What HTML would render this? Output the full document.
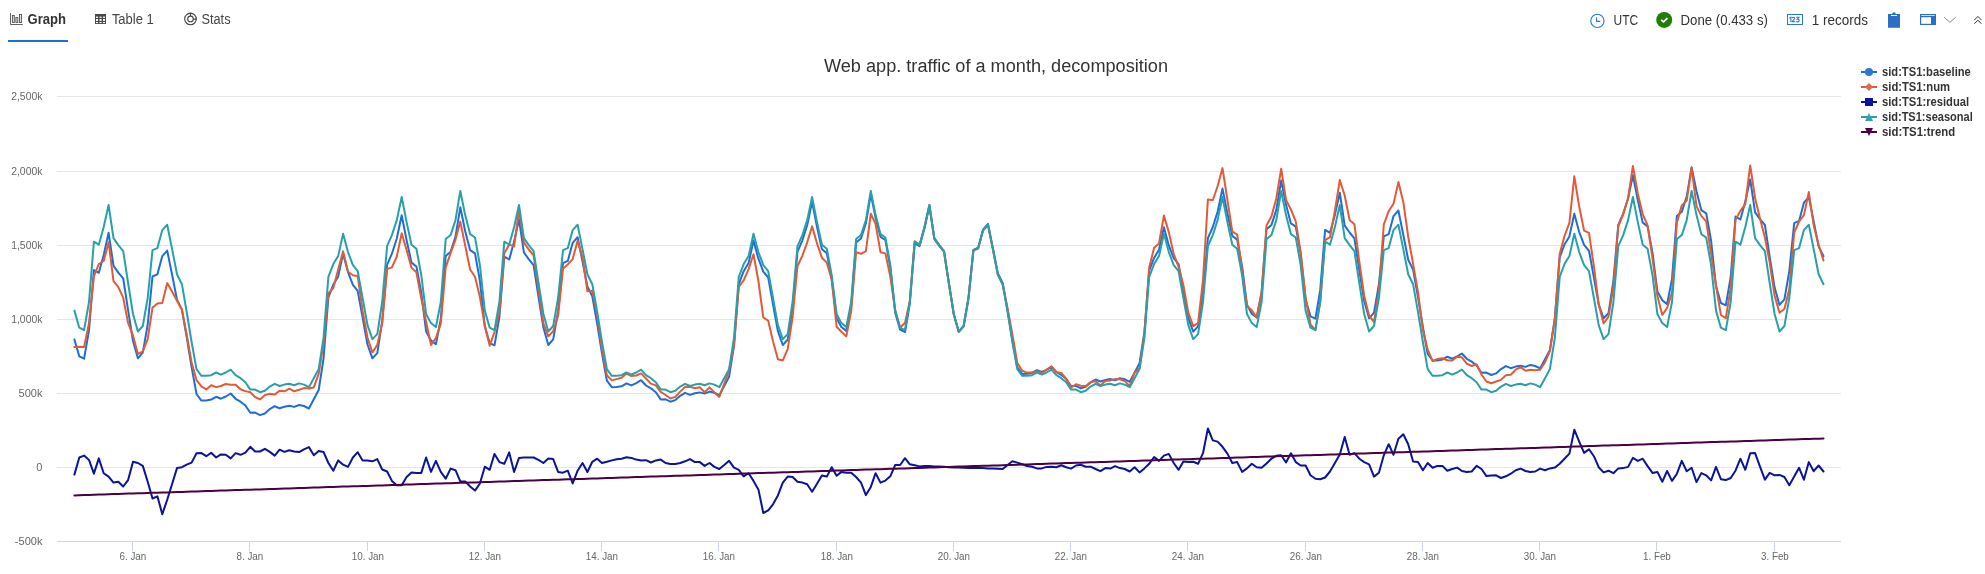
<!DOCTYPE html>
<html><head><meta charset="utf-8"><style>
html,body{margin:0;padding:0;background:#fff;width:1985px;height:574px;overflow:hidden;}
svg{position:absolute;left:0;top:0;display:block;will-change:transform;}
text{font-family:"Liberation Sans", sans-serif;}
</style></head><body>
<svg width="1985" height="574" viewBox="0 0 1985 574">
<!-- header tabs -->
<g fill="#e8e8e8" stroke="#505050" stroke-width="0.9">
  <path d="M10.5 13v11.5H22.8" fill="none"/>
  <rect x="12.4" y="15.5" width="1.9" height="7"/>
  <rect x="15.9" y="17.6" width="1.9" height="4.9"/>
  <rect x="19.5" y="14.4" width="1.9" height="8.1"/>
</g>
<text x="27.5" y="24" font-size="14" font-weight="bold" fill="#333" textLength="38.4" lengthAdjust="spacingAndGlyphs">Graph</text>
<rect x="8" y="40" width="60" height="2" fill="#1c6fd6"/>
<rect x="95" y="14" width="11" height="10" fill="#4a4a4a"/>
<g fill="#fff">
  <rect x="96" y="16.6" width="2" height="1.3"/><rect x="99.5" y="16.6" width="2.1" height="1.3"/><rect x="103" y="16.6" width="2" height="1.3"/>
  <rect x="96" y="19" width="2" height="1.9"/><rect x="99.5" y="19" width="2.1" height="1.9"/><rect x="103" y="19" width="2" height="1.9"/>
  <rect x="96" y="22" width="2" height="1.1"/><rect x="99.5" y="22" width="2.1" height="1.1"/><rect x="103" y="22" width="2" height="1.1"/>
</g>
<text x="111.9" y="24" font-size="14" fill="#444" textLength="41.8" lengthAdjust="spacingAndGlyphs">Table 1</text>
<g stroke="#444" stroke-width="1.1" fill="none">
  <circle cx="190.5" cy="18.9" r="5.8"/>
  <circle cx="190.5" cy="18.9" r="2.8"/>
  <path d="M190.5 13.1v3M193.3 19.1h3"/>
</g>
<text x="201.5" y="24" font-size="14" fill="#444" textLength="29" lengthAdjust="spacingAndGlyphs">Stats</text>

<!-- header right -->
<g stroke="#2b78d4" stroke-width="1.1" fill="none">
  <circle cx="1597.4" cy="20.9" r="6.6"/>
  <path d="M1596.6 17.2v4.2h3.7"/>
</g>
<text x="1613.6" y="24.9" font-size="14" fill="#333" textLength="24.6" lengthAdjust="spacingAndGlyphs">UTC</text>
<circle cx="1664.2" cy="19.9" r="8" fill="#207d06"/>
<path d="M1661.2 19.9l2.3 2 3.9-3.8" stroke="#fff" stroke-width="1.8" fill="none"/>
<text x="1680.5" y="24.9" font-size="14" fill="#333" textLength="87.4" lengthAdjust="spacingAndGlyphs">Done (0.433 s)</text>
<rect x="1787.5" y="14.5" width="15" height="10" fill="none" stroke="#2b78d4" stroke-width="1"/>
<path d="M1789.3 18.3L1790.9 17.2V22M1792.2 18.2C1792.4 16.9 1794.8 16.9 1794.8 18.3C1794.8 19.4 1792.3 20.4 1792.2 21.6H1795.1M1796.1 17.3H1798.9L1797.3 19.1C1799.7 19 1799.7 21.9 1797.5 21.9C1796.9 21.9 1796.4 21.7 1796 21.3" fill="none" stroke="#2b78d4" stroke-width="1.1"/>
<text x="1811.8" y="24.9" font-size="14" fill="#333" textLength="56.2" lengthAdjust="spacingAndGlyphs">1 records</text>
<path d="M1888 14h4.2a1.8 1.8 0 0 1 3.6 0H1900v13.7h-12z" fill="#2b6fc4"/>
<rect x="1891" y="15" width="6" height="1" fill="#fff"/>
<g fill="none" stroke="#2b6fc4" stroke-width="1.2">
  <rect x="1920.6" y="14.6" width="14.8" height="9.8"/>
  <path d="M1920 16.6h16"/>
</g>
<rect x="1931" y="16.5" width="5" height="8.5" fill="#2b6fc4"/>
<path d="M1944.2 17.2l5.7 5.2 5.8-5.2" stroke="#888" stroke-width="1" fill="none"/>
<path d="M1974.3 20.1l3.6-3.7 3.7 3.7M1974.3 23.7l3.6-3.4 3.7 3.4" stroke="#333" stroke-width="1" fill="none"/>

<!-- title -->
<text x="996" y="72" font-size="18" fill="#333" text-anchor="middle" textLength="344" lengthAdjust="spacingAndGlyphs">Web app. traffic of a month, decomposition</text>

<!-- grid -->
<rect x="57" y="96" width="1784" height="1" fill="#e6e6e6"/><rect x="57" y="171" width="1784" height="1" fill="#e6e6e6"/><rect x="57" y="245" width="1784" height="1" fill="#e6e6e6"/><rect x="57" y="319" width="1784" height="1" fill="#e6e6e6"/><rect x="57" y="393" width="1784" height="1" fill="#e6e6e6"/><rect x="57" y="467" width="1784" height="1" fill="#e6e6e6"/>
<rect x="57" y="541" width="1784" height="1" fill="#ccd6eb"/>
<g font-size="11" fill="#666"><text x="42.4" y="100.1" text-anchor="end" textLength="31.2" lengthAdjust="spacingAndGlyphs">2,500k</text><text x="42.4" y="175.1" text-anchor="end" textLength="31.2" lengthAdjust="spacingAndGlyphs">2,000k</text><text x="42.4" y="249.1" text-anchor="end" textLength="31.2" lengthAdjust="spacingAndGlyphs">1,500k</text><text x="42.4" y="323.1" text-anchor="end" textLength="31.2" lengthAdjust="spacingAndGlyphs">1,000k</text><text x="42.4" y="397.1" text-anchor="end">500k</text><text x="42.4" y="471.1" text-anchor="end">0</text><text x="42.4" y="545.1" text-anchor="end">-500k</text></g>
<g font-size="11" fill="#666"><rect x="132" y="542" width="1" height="9" fill="#ccd6eb"/><text x="132.9" y="560" text-anchor="middle" textLength="26.7" lengthAdjust="spacingAndGlyphs">6. Jan</text><rect x="249" y="542" width="1" height="9" fill="#ccd6eb"/><text x="249.9" y="560" text-anchor="middle" textLength="26.7" lengthAdjust="spacingAndGlyphs">8. Jan</text><rect x="367" y="542" width="1" height="9" fill="#ccd6eb"/><text x="367.9" y="560" text-anchor="middle" textLength="32.2" lengthAdjust="spacingAndGlyphs">10. Jan</text><rect x="484" y="542" width="1" height="9" fill="#ccd6eb"/><text x="484.9" y="560" text-anchor="middle" textLength="32.2" lengthAdjust="spacingAndGlyphs">12. Jan</text><rect x="601" y="542" width="1" height="9" fill="#ccd6eb"/><text x="601.9" y="560" text-anchor="middle" textLength="32.2" lengthAdjust="spacingAndGlyphs">14. Jan</text><rect x="718" y="542" width="1" height="9" fill="#ccd6eb"/><text x="718.9" y="560" text-anchor="middle" textLength="32.2" lengthAdjust="spacingAndGlyphs">16. Jan</text><rect x="836" y="542" width="1" height="9" fill="#ccd6eb"/><text x="836.9" y="560" text-anchor="middle" textLength="32.2" lengthAdjust="spacingAndGlyphs">18. Jan</text><rect x="953" y="542" width="1" height="9" fill="#ccd6eb"/><text x="953.9" y="560" text-anchor="middle" textLength="32.2" lengthAdjust="spacingAndGlyphs">20. Jan</text><rect x="1070" y="542" width="1" height="9" fill="#ccd6eb"/><text x="1070.9" y="560" text-anchor="middle" textLength="32.2" lengthAdjust="spacingAndGlyphs">22. Jan</text><rect x="1187" y="542" width="1" height="9" fill="#ccd6eb"/><text x="1187.9" y="560" text-anchor="middle" textLength="32.2" lengthAdjust="spacingAndGlyphs">24. Jan</text><rect x="1305" y="542" width="1" height="9" fill="#ccd6eb"/><text x="1305.9" y="560" text-anchor="middle" textLength="32.2" lengthAdjust="spacingAndGlyphs">26. Jan</text><rect x="1422" y="542" width="1" height="9" fill="#ccd6eb"/><text x="1422.9" y="560" text-anchor="middle" textLength="32.2" lengthAdjust="spacingAndGlyphs">28. Jan</text><rect x="1539" y="542" width="1" height="9" fill="#ccd6eb"/><text x="1539.9" y="560" text-anchor="middle" textLength="32.2" lengthAdjust="spacingAndGlyphs">30. Jan</text><rect x="1656" y="542" width="1" height="9" fill="#ccd6eb"/><text x="1656.9" y="560" text-anchor="middle" textLength="27.8" lengthAdjust="spacingAndGlyphs">1. Feb</text><rect x="1774" y="542" width="1" height="9" fill="#ccd6eb"/><text x="1774.9" y="560" text-anchor="middle" textLength="27.8" lengthAdjust="spacingAndGlyphs">3. Feb</text></g>

<!-- series -->
<polyline fill="none" stroke="#1e6ed7" stroke-width="2" stroke-linejoin="round" stroke-linecap="round" points="74.4,339.5 79.3,356.4 84.1,358.7 89.0,330.4 93.9,270.0 98.8,272.8 103.7,254.9 108.6,232.8 113.5,265.7 118.3,272.6 123.2,278.4 128.1,310.2 133.0,341.0 137.9,358.3 142.8,352.7 147.7,324.5 152.5,276.5 157.4,274.3 162.3,256.1 167.2,250.6 172.1,274.8 177.0,299.8 181.9,309.6 186.7,337.2 191.6,367.1 196.5,394.0 201.4,400.6 206.3,400.4 211.2,399.6 216.1,396.8 220.9,398.7 225.8,396.5 230.7,393.5 235.6,398.8 240.5,401.7 245.4,405.5 250.3,412.8 255.1,412.6 260.0,415.1 264.9,413.5 269.8,409.1 274.7,406.2 279.6,408.2 284.5,406.7 289.3,405.7 294.2,406.9 299.1,405.0 304.0,406.0 308.9,408.5 313.8,399.3 318.7,390.0 323.5,358.9 328.4,297.4 333.3,284.6 338.2,276.4 343.1,253.9 348.0,272.1 352.9,284.9 357.7,290.9 362.6,317.5 367.5,344.5 372.4,358.3 377.3,353.1 382.2,320.9 387.1,264.8 391.9,253.7 396.8,238.5 401.7,215.3 406.6,240.2 411.5,262.6 416.4,266.5 421.3,292.8 426.1,331.5 431.0,340.4 435.9,344.2 440.8,319.0 445.7,255.9 450.6,251.8 455.5,236.6 460.3,207.3 465.2,231.3 470.1,250.1 475.0,253.4 479.9,280.8 484.8,326.1 489.7,343.1 494.5,345.3 499.4,317.1 504.3,256.6 509.2,259.5 514.1,241.6 519.0,219.4 523.9,252.4 528.7,259.2 533.6,265.1 538.5,296.8 543.4,327.6 548.3,345.0 553.2,339.3 558.1,311.2 563.0,263.1 567.8,260.9 572.7,242.8 577.6,237.2 582.5,261.5 587.4,286.4 592.3,296.3 597.2,323.9 602.0,353.7 606.9,380.7 611.8,387.2 616.7,387.1 621.6,386.3 626.5,383.4 631.4,385.4 636.2,383.1 641.1,380.2 646.0,385.5 650.9,388.3 655.8,392.2 660.7,399.4 665.6,399.3 670.4,401.7 675.3,400.1 680.2,395.8 685.1,392.8 690.0,394.9 694.9,393.3 699.8,392.4 704.6,393.6 709.5,391.6 714.4,392.7 719.3,395.1 724.2,386.0 729.1,376.7 734.0,345.5 738.8,284.1 743.7,271.2 748.6,263.1 753.5,240.5 758.4,258.7 763.3,271.6 768.2,277.5 773.0,304.2 777.9,331.1 782.8,345.0 787.7,339.8 792.6,307.5 797.5,251.5 802.4,240.3 807.2,225.2 812.1,201.9 817.0,226.8 821.9,249.3 826.8,253.1 831.7,279.5 836.6,318.1 841.4,327.0 846.3,330.9 851.2,305.6 856.1,242.6 861.0,238.4 865.9,223.3 870.8,194.0 875.6,217.9 880.5,236.8 885.4,240.0 890.3,267.5 895.2,312.8 900.1,329.7 905.0,332.0 909.8,303.7 914.7,243.3 919.6,246.1 924.5,228.2 929.4,206.1 934.3,239.0 939.2,245.9 944.0,251.7 948.9,283.5 953.8,314.3 958.7,331.6 963.6,326.0 968.5,297.8 973.4,249.8 978.2,247.6 983.1,229.4 988.0,223.9 992.9,248.1 997.8,273.1 1002.7,282.9 1007.6,310.5 1012.4,340.4 1017.3,367.3 1022.2,373.9 1027.1,373.7 1032.0,372.9 1036.9,370.1 1041.8,372.0 1046.6,369.8 1051.5,366.8 1056.4,372.1 1061.3,375.0 1066.2,378.8 1071.1,386.1 1076.0,385.9 1080.8,388.4 1085.7,386.8 1090.6,382.4 1095.5,379.5 1100.4,381.5 1105.3,380.0 1110.2,379.0 1115.0,380.2 1119.9,378.3 1124.8,379.3 1129.7,381.8 1134.6,372.6 1139.5,363.3 1144.4,332.2 1149.2,270.7 1154.1,257.9 1159.0,249.7 1163.9,227.2 1168.8,245.4 1173.7,258.2 1178.6,264.2 1183.4,290.8 1188.3,317.8 1193.2,331.6 1198.1,326.4 1203.0,294.2 1207.9,238.1 1212.8,227.0 1217.6,211.8 1222.5,188.6 1227.4,213.5 1232.3,235.9 1237.2,239.8 1242.1,266.1 1247.0,304.8 1251.8,313.7 1256.7,317.5 1261.6,292.3 1266.5,229.2 1271.4,225.1 1276.3,209.9 1281.2,180.6 1286.0,204.6 1290.9,223.4 1295.8,226.7 1300.7,254.1 1305.6,299.4 1310.5,316.4 1315.4,318.6 1320.2,290.4 1325.1,229.9 1330.0,232.8 1334.9,214.9 1339.8,192.7 1344.7,225.7 1349.6,232.5 1354.4,238.4 1359.3,270.1 1364.2,300.9 1369.1,318.3 1374.0,312.6 1378.9,284.5 1383.8,236.4 1388.7,234.2 1393.5,216.1 1398.4,210.5 1403.3,234.8 1408.2,259.7 1413.1,269.6 1418.0,297.2 1422.9,327.0 1427.7,354.0 1432.6,360.5 1437.5,360.4 1442.4,359.6 1447.3,356.7 1452.2,358.7 1457.1,356.4 1461.9,353.5 1466.8,358.8 1471.7,361.6 1476.6,365.5 1481.5,372.7 1486.4,372.6 1491.3,375.0 1496.1,373.4 1501.0,369.1 1505.9,366.1 1510.8,368.2 1515.7,366.6 1520.6,365.7 1525.5,366.9 1530.3,364.9 1535.2,366.0 1540.1,368.4 1545.0,359.3 1549.9,350.0 1554.8,318.8 1559.7,257.4 1564.5,244.5 1569.4,236.4 1574.3,213.8 1579.2,232.0 1584.1,244.9 1589.0,250.8 1593.9,277.5 1598.7,304.4 1603.6,318.3 1608.5,313.1 1613.4,280.8 1618.3,224.8 1623.2,213.6 1628.1,198.5 1632.9,175.2 1637.8,200.1 1642.7,222.6 1647.6,226.4 1652.5,252.8 1657.4,291.4 1662.3,300.3 1667.1,304.2 1672.0,278.9 1676.9,215.9 1681.8,211.7 1686.7,196.6 1691.6,167.3 1696.5,191.2 1701.3,210.1 1706.2,213.3 1711.1,240.8 1716.0,286.1 1720.9,303.0 1725.8,305.3 1730.7,277.0 1735.5,216.6 1740.4,219.4 1745.3,201.5 1750.2,179.4 1755.1,212.3 1760.0,219.2 1764.9,225.0 1769.7,256.8 1774.6,287.6 1779.5,304.9 1784.4,299.3 1789.3,271.1 1794.2,223.1 1799.1,220.9 1803.9,202.7 1808.8,197.2 1813.7,221.4 1818.6,246.4 1823.5,256.2"/>
<polyline fill="none" stroke="#e45a37" stroke-width="2" stroke-linejoin="round" stroke-linecap="round" points="74.4,346.9 79.3,346.8 84.1,347.1 89.0,323.1 93.9,276.3 98.8,264.0 103.7,261.0 108.6,242.2 113.5,281.1 118.3,287.1 123.2,297.7 128.1,323.0 133.0,335.6 137.9,354.1 142.8,351.4 147.7,339.1 152.5,307.7 157.4,303.4 162.3,303.1 167.2,283.1 172.1,291.6 177.0,300.7 181.9,309.6 186.7,334.7 191.6,362.5 196.5,380.1 201.4,386.4 206.3,389.4 211.2,385.2 216.1,387.1 220.9,386.0 225.8,384.0 230.7,384.7 235.6,384.7 240.5,389.3 245.4,391.1 250.3,392.3 255.1,397.0 260.0,399.4 264.9,395.1 269.8,393.8 274.7,394.6 279.6,390.7 284.5,391.3 289.3,388.7 294.2,391.3 299.1,389.8 304.0,388.1 308.9,388.4 313.8,387.4 318.7,373.9 323.5,343.6 328.4,293.2 333.3,288.0 338.2,269.6 343.1,251.3 348.0,271.8 352.9,275.3 357.7,275.9 362.6,310.7 367.5,337.7 372.4,352.4 377.3,345.0 382.2,323.1 387.1,269.1 391.9,267.4 396.8,256.5 401.7,233.2 406.6,250.0 411.5,267.8 416.4,272.2 421.3,298.5 426.1,321.8 431.0,345.0 435.9,338.0 440.8,323.6 445.7,267.4 450.6,253.2 455.5,239.6 460.3,221.6 465.2,245.5 470.1,269.5 475.0,276.8 479.9,297.1 484.8,325.7 489.7,345.7 494.5,332.1 499.4,312.0 504.3,253.2 509.2,244.6 514.1,246.4 519.0,210.1 523.9,242.7 528.7,249.5 533.6,255.4 538.5,289.5 543.4,323.4 548.3,336.3 553.2,331.2 558.1,315.8 563.0,268.6 567.8,264.4 572.7,259.1 577.6,240.7 582.5,257.2 587.4,291.2 592.3,290.8 597.2,315.4 602.0,349.5 606.9,375.3 611.8,380.4 616.7,379.1 621.6,377.8 626.5,373.6 631.4,376.0 636.2,375.5 641.1,373.4 646.0,378.5 650.9,383.6 655.8,385.4 660.7,391.8 665.6,395.0 670.4,398.5 675.3,396.9 680.2,391.6 685.1,386.9 690.0,386.7 694.9,388.2 699.8,387.3 704.6,392.3 709.5,387.4 714.4,392.4 719.3,396.9 724.2,383.8 729.1,370.3 734.0,345.9 738.8,286.7 743.7,280.3 748.6,269.1 753.5,254.2 758.4,281.0 763.3,317.4 768.2,320.8 773.0,341.3 777.9,359.3 782.8,360.4 787.7,349.2 792.6,317.3 797.5,266.0 802.4,255.7 807.2,242.3 812.1,226.4 817.0,243.4 821.9,257.7 826.8,262.6 831.7,279.5 836.6,326.7 841.4,331.7 846.3,336.4 851.2,311.1 856.1,252.3 861.0,253.8 865.9,251.1 870.8,213.7 875.6,224.0 880.5,252.2 885.4,253.4 890.3,276.6 895.2,310.6 900.1,327.6 905.0,323.0 909.8,300.9 914.7,241.3 919.6,245.3 924.5,227.1 929.4,204.9 934.3,238.2 939.2,245.1 944.0,251.2 948.9,283.5 953.8,314.5 958.7,332.0 963.6,326.5 968.5,298.7 973.4,250.7 978.2,248.5 983.1,230.3 988.0,225.1 992.9,249.5 997.8,274.6 1002.7,284.7 1007.6,308.4 1012.4,334.5 1017.3,362.8 1022.2,370.8 1027.1,372.6 1032.0,372.5 1036.9,371.3 1041.8,373.3 1046.6,369.5 1051.5,366.3 1056.4,372.2 1061.3,373.0 1066.2,378.9 1071.1,387.5 1076.0,384.3 1080.8,385.8 1085.7,386.3 1090.6,382.0 1095.5,381.2 1100.4,385.5 1105.3,380.9 1110.2,380.4 1115.0,379.1 1119.9,379.2 1124.8,381.1 1129.7,386.1 1134.6,372.7 1139.5,368.5 1144.4,333.4 1149.2,267.4 1154.1,247.7 1159.0,243.4 1163.9,215.6 1168.8,232.1 1173.7,254.0 1178.6,266.8 1183.4,285.2 1188.3,312.7 1193.2,326.2 1198.1,323.1 1203.0,280.2 1207.9,199.4 1212.8,200.2 1217.6,186.2 1222.5,168.1 1227.4,199.9 1232.3,231.7 1237.2,234.7 1242.1,270.8 1247.0,306.0 1251.8,310.3 1256.7,317.6 1261.6,292.8 1266.5,225.5 1271.4,216.6 1276.3,198.5 1281.2,168.7 1286.0,199.9 1290.9,209.5 1295.8,221.6 1300.7,252.4 1305.6,297.8 1310.5,324.5 1315.4,330.1 1320.2,302.4 1325.1,240.2 1330.0,237.1 1334.9,210.7 1339.8,180.0 1344.7,195.5 1349.6,220.1 1354.4,224.2 1359.3,261.6 1364.2,295.9 1369.1,315.4 1374.0,322.1 1378.9,290.0 1383.8,224.5 1388.7,211.2 1393.5,203.7 1398.4,182.1 1403.3,201.9 1408.2,236.7 1413.1,264.0 1418.0,292.1 1422.9,330.1 1427.7,349.7 1432.6,361.1 1437.5,359.0 1442.4,358.3 1447.3,360.2 1452.2,360.4 1457.1,356.8 1461.9,357.3 1466.8,363.6 1471.7,366.0 1476.6,364.2 1481.5,374.5 1486.4,381.5 1491.3,383.2 1496.1,381.5 1501.0,379.9 1505.9,375.2 1510.8,374.7 1515.7,369.7 1520.6,367.1 1525.5,370.7 1530.3,369.8 1535.2,370.3 1540.1,369.8 1545.0,362.2 1549.9,351.2 1554.8,319.2 1559.7,254.0 1564.5,236.0 1569.4,222.8 1574.3,176.3 1579.2,206.5 1584.1,230.6 1589.0,232.8 1593.9,266.4 1598.7,304.5 1603.6,323.4 1608.5,316.6 1613.4,286.9 1618.3,226.0 1623.2,214.5 1628.1,198.2 1632.9,165.9 1637.8,193.7 1642.7,214.1 1647.6,225.3 1652.5,258.4 1657.4,296.1 1662.3,314.9 1667.1,308.0 1672.0,292.6 1676.9,222.4 1681.8,205.4 1686.7,200.5 1691.6,167.9 1696.5,206.1 1701.3,215.9 1706.2,221.4 1711.1,253.9 1716.0,285.8 1720.9,315.0 1725.8,318.1 1730.7,287.8 1735.5,220.0 1740.4,210.9 1745.3,204.2 1750.2,165.4 1755.1,198.2 1760.0,218.5 1764.9,237.5 1769.7,262.4 1774.6,295.7 1779.5,312.7 1784.4,309.0 1789.3,289.1 1794.2,232.5 1799.1,221.5 1803.9,215.2 1808.8,192.1 1813.7,225.4 1818.6,244.7 1823.5,260.5"/>
<polyline fill="none" stroke="#0a1496" stroke-width="2" stroke-linejoin="round" stroke-linecap="round" points="74.4,474.6 79.3,457.5 84.1,455.6 89.0,459.9 93.9,473.6 98.8,458.4 103.7,473.2 108.6,476.6 113.5,482.6 118.3,481.8 123.2,486.5 128.1,480.1 133.0,461.8 137.9,463.0 142.8,465.9 147.7,481.8 152.5,498.5 157.4,496.3 162.3,514.2 167.2,499.7 172.1,484.0 177.0,468.1 181.9,467.2 186.7,464.7 191.6,462.6 196.5,453.2 201.4,453.1 206.3,456.2 211.2,452.7 216.1,457.5 220.9,454.4 225.8,454.8 230.7,458.4 235.6,453.1 240.5,454.8 245.4,452.7 250.3,446.8 255.1,451.5 260.0,451.5 264.9,448.8 269.8,451.9 274.7,455.6 279.6,449.7 284.5,451.9 289.3,450.2 294.2,451.5 299.1,452.1 304.0,449.3 308.9,447.1 313.8,455.3 318.7,451.0 323.5,451.9 328.4,463.0 333.3,470.7 338.2,460.4 343.1,464.7 348.0,466.9 352.9,457.5 357.7,452.2 362.6,460.4 367.5,460.4 372.4,461.3 377.3,459.1 382.2,469.5 387.1,471.5 391.9,480.9 396.8,485.2 401.7,485.2 406.6,477.0 411.5,472.4 416.4,472.9 421.3,472.9 426.1,457.5 431.0,471.9 435.9,460.9 440.8,471.9 445.7,478.7 450.6,468.6 455.5,470.2 460.3,481.4 465.2,481.4 470.1,486.5 475.0,490.6 479.9,483.5 484.8,466.7 489.7,469.8 494.5,453.9 499.4,462.1 504.3,463.8 509.2,452.4 514.1,472.0 519.0,457.9 523.9,457.5 528.7,457.5 533.6,457.5 538.5,459.9 543.4,463.0 548.3,458.5 553.2,459.1 558.1,471.9 563.0,472.7 567.8,470.7 572.7,483.5 577.6,470.7 582.5,463.0 587.4,472.0 592.3,461.8 597.2,458.7 602.0,463.0 606.9,461.8 611.8,460.4 616.7,459.2 621.6,458.7 626.5,457.3 631.4,457.9 636.2,459.6 641.1,460.4 646.0,460.2 650.9,462.5 655.8,460.4 660.7,459.6 665.6,463.0 670.4,464.0 675.3,464.0 680.2,463.0 685.1,461.3 690.0,459.1 694.9,462.1 699.8,462.1 704.6,465.9 709.5,463.0 714.4,466.9 719.3,469.0 724.2,465.0 729.1,460.8 734.0,467.6 738.8,469.8 743.7,476.3 748.6,473.2 753.5,480.9 758.4,489.4 763.3,513.0 768.2,510.4 773.0,504.3 777.9,495.4 782.8,482.6 787.7,476.6 792.6,477.0 797.5,481.8 802.4,482.6 807.2,484.3 812.1,491.7 817.0,483.8 821.9,475.6 826.8,476.6 831.7,467.2 836.6,475.8 841.4,471.9 846.3,472.7 851.2,472.7 856.1,477.0 861.0,482.6 865.9,495.1 870.8,486.9 875.6,473.2 880.5,482.6 885.4,480.6 890.3,476.3 895.2,465.0 900.1,465.0 905.0,458.2 909.8,464.3 914.7,465.2 919.6,466.4 924.5,466.1 929.4,466.1 934.3,466.4 939.2,466.4 944.0,466.7 948.9,467.2 953.8,467.4 958.7,467.6 963.6,467.8 968.5,468.1 973.4,468.1 978.2,468.1 983.1,468.1 988.0,468.4 992.9,468.6 997.8,468.8 1002.7,469.0 1007.6,465.0 1012.4,461.3 1017.3,462.6 1022.2,464.2 1027.1,466.1 1032.0,466.7 1036.9,468.4 1041.8,468.4 1046.6,466.9 1051.5,466.7 1056.4,467.2 1061.3,465.2 1066.2,467.2 1071.1,468.6 1076.0,465.5 1080.8,464.7 1085.7,466.7 1090.6,466.7 1095.5,469.0 1100.4,471.2 1105.3,468.1 1110.2,468.6 1115.0,466.1 1119.9,468.1 1124.8,469.0 1129.7,471.5 1134.6,467.2 1139.5,472.4 1144.4,468.4 1149.2,463.8 1154.1,457.0 1159.0,460.9 1163.9,455.6 1168.8,453.9 1173.7,463.0 1178.6,469.8 1183.4,461.6 1188.3,462.1 1193.2,461.8 1198.1,463.8 1203.0,453.2 1207.9,428.5 1212.8,440.4 1217.6,441.6 1222.5,446.8 1227.4,453.6 1232.3,463.0 1237.2,462.1 1242.1,471.9 1247.0,468.4 1251.8,463.8 1256.7,467.2 1261.6,467.8 1266.5,463.5 1271.4,458.7 1276.3,455.8 1281.2,455.3 1286.0,462.5 1290.9,453.2 1295.8,462.1 1300.7,465.5 1305.6,465.5 1310.5,475.3 1315.4,478.7 1320.2,479.2 1325.1,477.5 1330.0,471.5 1334.9,463.0 1339.8,454.4 1344.7,437.0 1349.6,454.8 1354.4,453.1 1359.3,458.7 1364.2,462.1 1369.1,464.3 1374.0,476.6 1378.9,472.7 1383.8,455.3 1388.7,444.2 1393.5,454.8 1398.4,438.7 1403.3,434.3 1408.2,444.2 1413.1,461.6 1418.0,462.1 1422.9,470.3 1427.7,463.0 1432.6,467.8 1437.5,465.9 1442.4,465.9 1447.3,470.7 1452.2,469.0 1457.1,467.6 1461.9,471.0 1466.8,472.0 1471.7,471.5 1476.6,465.9 1481.5,469.0 1486.4,476.1 1491.3,475.4 1496.1,475.3 1501.0,478.0 1505.9,476.3 1510.8,473.7 1515.7,470.3 1520.6,468.6 1525.5,471.0 1530.3,472.0 1535.2,471.5 1540.1,468.6 1545.0,470.2 1549.9,468.4 1554.8,467.6 1559.7,463.8 1564.5,458.7 1569.4,453.6 1574.3,429.7 1579.2,441.6 1584.1,452.9 1589.0,449.2 1593.9,456.2 1598.7,467.2 1603.6,472.4 1608.5,470.7 1613.4,473.2 1618.3,468.4 1623.2,468.1 1628.1,466.9 1632.9,457.9 1637.8,460.8 1642.7,458.7 1647.6,466.1 1652.5,472.9 1657.4,471.9 1662.3,481.8 1667.1,471.0 1672.0,480.9 1676.9,473.7 1681.8,460.9 1686.7,471.2 1691.6,467.8 1696.5,482.1 1701.3,473.1 1706.2,475.3 1711.1,480.4 1716.0,466.9 1720.9,479.2 1725.8,480.1 1730.7,478.0 1735.5,470.7 1740.4,458.7 1745.3,469.8 1750.2,453.2 1755.1,453.1 1760.0,466.6 1764.9,479.7 1769.7,472.9 1774.6,475.3 1779.5,474.9 1784.4,477.0 1789.3,485.2 1794.2,476.6 1799.1,467.8 1803.9,479.7 1808.8,462.1 1813.7,471.2 1818.6,465.5 1823.5,471.5"/>
<polyline fill="none" stroke="#28a0aa" stroke-width="2" stroke-linejoin="round" stroke-linecap="round" points="74.4,310.6 79.3,327.7 84.1,330.1 89.0,302.0 93.9,241.7 98.8,244.7 103.7,227.0 108.6,205.0 113.5,238.1 118.3,245.1 123.2,251.1 128.1,283.0 133.0,314.0 137.9,331.5 142.8,326.0 147.7,298.0 152.5,250.1 157.4,248.1 162.3,230.1 167.2,224.7 172.1,249.1 177.0,274.2 181.9,284.2 186.7,312.0 191.6,342.0 196.5,369.1 201.4,375.8 206.3,375.8 211.2,375.2 216.1,372.5 220.9,374.6 225.8,372.5 230.7,369.7 235.6,375.2 240.5,378.2 245.4,382.2 250.3,389.6 255.1,389.6 260.0,392.2 264.9,390.8 269.8,386.6 274.7,383.8 279.6,386.0 284.5,384.6 289.3,383.8 294.2,385.2 299.1,383.4 304.0,384.6 308.9,387.2 313.8,378.2 318.7,369.1 323.5,338.1 328.4,276.8 333.3,264.1 338.2,256.1 343.1,233.7 348.0,252.1 352.9,265.1 357.7,271.2 362.6,298.0 367.5,325.1 372.4,339.1 377.3,334.1 382.2,302.0 387.1,246.1 391.9,235.1 396.8,220.1 401.7,197.0 406.6,222.1 411.5,244.7 416.4,248.7 421.3,275.2 426.1,314.0 431.0,323.1 435.9,327.1 440.8,302.0 445.7,239.1 450.6,235.1 455.5,220.1 460.3,191.0 465.2,215.1 470.1,234.1 475.0,237.5 479.9,265.1 484.8,310.6 489.7,327.7 494.5,330.1 499.4,302.0 504.3,241.7 509.2,244.7 514.1,227.0 519.0,205.0 523.9,238.1 528.7,245.1 533.6,251.1 538.5,283.0 543.4,314.0 548.3,331.5 553.2,326.0 558.1,298.0 563.0,250.1 567.8,248.1 572.7,230.1 577.6,224.7 582.5,249.1 587.4,274.2 592.3,284.2 597.2,312.0 602.0,342.0 606.9,369.1 611.8,375.8 616.7,375.8 621.6,375.2 626.5,372.5 631.4,374.6 636.2,372.5 641.1,369.7 646.0,375.2 650.9,378.2 655.8,382.2 660.7,389.6 665.6,389.6 670.4,392.2 675.3,390.8 680.2,386.6 685.1,383.8 690.0,386.0 694.9,384.6 699.8,383.8 704.6,385.2 709.5,383.4 714.4,384.6 719.3,387.2 724.2,378.2 729.1,369.1 734.0,338.1 738.8,276.8 743.7,264.1 748.6,256.1 753.5,233.7 758.4,252.1 763.3,265.1 768.2,271.2 773.0,298.0 777.9,325.1 782.8,339.1 787.7,334.1 792.6,302.0 797.5,246.1 802.4,235.1 807.2,220.1 812.1,197.0 817.0,222.1 821.9,244.7 826.8,248.7 831.7,275.2 836.6,314.0 841.4,323.1 846.3,327.1 851.2,302.0 856.1,239.1 861.0,235.1 865.9,220.1 870.8,191.0 875.6,215.1 880.5,234.1 885.4,237.5 890.3,265.1 895.2,310.6 900.1,327.7 905.0,330.1 909.8,302.0 914.7,241.7 919.6,244.7 924.5,227.0 929.4,205.0 934.3,238.1 939.2,245.1 944.0,251.1 948.9,283.0 953.8,314.0 958.7,331.5 963.6,326.0 968.5,298.0 973.4,250.1 978.2,248.1 983.1,230.1 988.0,224.7 992.9,249.1 997.8,274.2 1002.7,284.2 1007.6,312.0 1012.4,342.0 1017.3,369.1 1022.2,375.8 1027.1,375.8 1032.0,375.2 1036.9,372.5 1041.8,374.6 1046.6,372.5 1051.5,369.7 1056.4,375.2 1061.3,378.2 1066.2,382.2 1071.1,389.6 1076.0,389.6 1080.8,392.2 1085.7,390.8 1090.6,386.6 1095.5,383.8 1100.4,386.0 1105.3,384.6 1110.2,383.8 1115.0,385.2 1119.9,383.4 1124.8,384.6 1129.7,387.2 1134.6,378.2 1139.5,369.1 1144.4,338.1 1149.2,276.8 1154.1,264.1 1159.0,256.1 1163.9,233.7 1168.8,252.1 1173.7,265.1 1178.6,271.2 1183.4,298.0 1188.3,325.1 1193.2,339.1 1198.1,334.1 1203.0,302.0 1207.9,246.1 1212.8,235.1 1217.6,220.1 1222.5,197.0 1227.4,222.1 1232.3,244.7 1237.2,248.7 1242.1,275.2 1247.0,314.0 1251.8,323.1 1256.7,327.1 1261.6,302.0 1266.5,239.1 1271.4,235.1 1276.3,220.1 1281.2,191.0 1286.0,215.1 1290.9,234.1 1295.8,237.5 1300.7,265.1 1305.6,310.6 1310.5,327.7 1315.4,330.1 1320.2,302.0 1325.1,241.7 1330.0,244.7 1334.9,227.0 1339.8,205.0 1344.7,238.1 1349.6,245.1 1354.4,251.1 1359.3,283.0 1364.2,314.0 1369.1,331.5 1374.0,326.0 1378.9,298.0 1383.8,250.1 1388.7,248.1 1393.5,230.1 1398.4,224.7 1403.3,249.1 1408.2,274.2 1413.1,284.2 1418.0,312.0 1422.9,342.0 1427.7,369.1 1432.6,375.8 1437.5,375.8 1442.4,375.2 1447.3,372.5 1452.2,374.6 1457.1,372.5 1461.9,369.7 1466.8,375.2 1471.7,378.2 1476.6,382.2 1481.5,389.6 1486.4,389.6 1491.3,392.2 1496.1,390.8 1501.0,386.6 1505.9,383.8 1510.8,386.0 1515.7,384.6 1520.6,383.8 1525.5,385.2 1530.3,383.4 1535.2,384.6 1540.1,387.2 1545.0,378.2 1549.9,369.1 1554.8,338.1 1559.7,276.8 1564.5,264.1 1569.4,256.1 1574.3,233.7 1579.2,252.1 1584.1,265.1 1589.0,271.2 1593.9,298.0 1598.7,325.1 1603.6,339.1 1608.5,334.1 1613.4,302.0 1618.3,246.1 1623.2,235.1 1628.1,220.1 1632.9,197.0 1637.8,222.1 1642.7,244.7 1647.6,248.7 1652.5,275.2 1657.4,314.0 1662.3,323.1 1667.1,327.1 1672.0,302.0 1676.9,239.1 1681.8,235.1 1686.7,220.1 1691.6,191.0 1696.5,215.1 1701.3,234.1 1706.2,237.5 1711.1,265.1 1716.0,310.6 1720.9,327.7 1725.8,330.1 1730.7,302.0 1735.5,241.7 1740.4,244.7 1745.3,227.0 1750.2,205.0 1755.1,238.1 1760.0,245.1 1764.9,251.1 1769.7,283.0 1774.6,314.0 1779.5,331.5 1784.4,326.0 1789.3,298.0 1794.2,250.1 1799.1,248.1 1803.9,230.1 1808.8,224.7 1813.7,249.1 1818.6,274.2 1823.5,284.2"/>
<polyline fill="none" stroke="#4b0046" stroke-width="2" stroke-linejoin="round" stroke-linecap="round" points="74.4,495.4 79.3,495.2 84.1,495.1 89.0,494.9 93.9,494.8 98.8,494.6 103.7,494.4 108.6,494.3 113.5,494.1 118.3,494.0 123.2,493.8 128.1,493.6 133.0,493.5 137.9,493.3 142.8,493.2 147.7,493.0 152.5,492.8 157.4,492.7 162.3,492.5 167.2,492.4 172.1,492.2 177.0,492.1 181.9,491.9 186.7,491.7 191.6,491.6 196.5,491.4 201.4,491.3 206.3,491.1 211.2,490.9 216.1,490.8 220.9,490.6 225.8,490.5 230.7,490.3 235.6,490.1 240.5,490.0 245.4,489.8 250.3,489.7 255.1,489.5 260.0,489.4 264.9,489.2 269.8,489.0 274.7,488.9 279.6,488.7 284.5,488.6 289.3,488.4 294.2,488.2 299.1,488.1 304.0,487.9 308.9,487.8 313.8,487.6 318.7,487.4 323.5,487.3 328.4,487.1 333.3,487.0 338.2,486.8 343.1,486.6 348.0,486.5 352.9,486.3 357.7,486.2 362.6,486.0 367.5,485.9 372.4,485.7 377.3,485.5 382.2,485.4 387.1,485.2 391.9,485.1 396.8,484.9 401.7,484.7 406.6,484.6 411.5,484.4 416.4,484.3 421.3,484.1 426.1,483.9 431.0,483.8 435.9,483.6 440.8,483.5 445.7,483.3 450.6,483.2 455.5,483.0 460.3,482.8 465.2,482.7 470.1,482.5 475.0,482.4 479.9,482.2 484.8,482.0 489.7,481.9 494.5,481.7 499.4,481.6 504.3,481.4 509.2,481.2 514.1,481.1 519.0,480.9 523.9,480.8 528.7,480.6 533.6,480.5 538.5,480.3 543.4,480.1 548.3,480.0 553.2,479.8 558.1,479.7 563.0,479.5 567.8,479.3 572.7,479.2 577.6,479.0 582.5,478.9 587.4,478.7 592.3,478.5 597.2,478.4 602.0,478.2 606.9,478.1 611.8,477.9 616.7,477.7 621.6,477.6 626.5,477.4 631.4,477.3 636.2,477.1 641.1,477.0 646.0,476.8 650.9,476.6 655.8,476.5 660.7,476.3 665.6,476.2 670.4,476.0 675.3,475.8 680.2,475.7 685.1,475.5 690.0,475.4 694.9,475.2 699.8,475.0 704.6,474.9 709.5,474.7 714.4,474.6 719.3,474.4 724.2,474.3 729.1,474.1 734.0,473.9 738.8,473.8 743.7,473.6 748.6,473.5 753.5,473.3 758.4,473.1 763.3,473.0 768.2,472.8 773.0,472.7 777.9,472.5 782.8,472.3 787.7,472.2 792.6,472.0 797.5,471.9 802.4,471.7 807.2,471.6 812.1,471.4 817.0,471.2 821.9,471.1 826.8,470.9 831.7,470.8 836.6,470.6 841.4,470.4 846.3,470.3 851.2,470.1 856.1,470.0 861.0,469.8 865.9,469.6 870.8,469.5 875.6,469.3 880.5,469.2 885.4,469.0 890.3,468.8 895.2,468.7 900.1,468.5 905.0,468.4 909.8,468.2 914.7,468.1 919.6,467.9 924.5,467.7 929.4,467.6 934.3,467.4 939.2,467.3 944.0,467.1 948.9,466.9 953.8,466.8 958.7,466.6 963.6,466.5 968.5,466.3 973.4,466.1 978.2,466.0 983.1,465.8 988.0,465.7 992.9,465.5 997.8,465.4 1002.7,465.2 1007.6,465.0 1012.4,464.9 1017.3,464.7 1022.2,464.6 1027.1,464.4 1032.0,464.2 1036.9,464.1 1041.8,463.9 1046.6,463.8 1051.5,463.6 1056.4,463.4 1061.3,463.3 1066.2,463.1 1071.1,463.0 1076.0,462.8 1080.8,462.7 1085.7,462.5 1090.6,462.3 1095.5,462.2 1100.4,462.0 1105.3,461.9 1110.2,461.7 1115.0,461.5 1119.9,461.4 1124.8,461.2 1129.7,461.1 1134.6,460.9 1139.5,460.7 1144.4,460.6 1149.2,460.4 1154.1,460.3 1159.0,460.1 1163.9,459.9 1168.8,459.8 1173.7,459.6 1178.6,459.5 1183.4,459.3 1188.3,459.2 1193.2,459.0 1198.1,458.8 1203.0,458.7 1207.9,458.5 1212.8,458.4 1217.6,458.2 1222.5,458.0 1227.4,457.9 1232.3,457.7 1237.2,457.6 1242.1,457.4 1247.0,457.2 1251.8,457.1 1256.7,456.9 1261.6,456.8 1266.5,456.6 1271.4,456.5 1276.3,456.3 1281.2,456.1 1286.0,456.0 1290.9,455.8 1295.8,455.7 1300.7,455.5 1305.6,455.3 1310.5,455.2 1315.4,455.0 1320.2,454.9 1325.1,454.7 1330.0,454.5 1334.9,454.4 1339.8,454.2 1344.7,454.1 1349.6,453.9 1354.4,453.8 1359.3,453.6 1364.2,453.4 1369.1,453.3 1374.0,453.1 1378.9,453.0 1383.8,452.8 1388.7,452.6 1393.5,452.5 1398.4,452.3 1403.3,452.2 1408.2,452.0 1413.1,451.8 1418.0,451.7 1422.9,451.5 1427.7,451.4 1432.6,451.2 1437.5,451.0 1442.4,450.9 1447.3,450.7 1452.2,450.6 1457.1,450.4 1461.9,450.3 1466.8,450.1 1471.7,449.9 1476.6,449.8 1481.5,449.6 1486.4,449.5 1491.3,449.3 1496.1,449.1 1501.0,449.0 1505.9,448.8 1510.8,448.7 1515.7,448.5 1520.6,448.3 1525.5,448.2 1530.3,448.0 1535.2,447.9 1540.1,447.7 1545.0,447.6 1549.9,447.4 1554.8,447.2 1559.7,447.1 1564.5,446.9 1569.4,446.8 1574.3,446.6 1579.2,446.4 1584.1,446.3 1589.0,446.1 1593.9,446.0 1598.7,445.8 1603.6,445.6 1608.5,445.5 1613.4,445.3 1618.3,445.2 1623.2,445.0 1628.1,444.9 1632.9,444.7 1637.8,444.5 1642.7,444.4 1647.6,444.2 1652.5,444.1 1657.4,443.9 1662.3,443.7 1667.1,443.6 1672.0,443.4 1676.9,443.3 1681.8,443.1 1686.7,442.9 1691.6,442.8 1696.5,442.6 1701.3,442.5 1706.2,442.3 1711.1,442.1 1716.0,442.0 1720.9,441.8 1725.8,441.7 1730.7,441.5 1735.5,441.4 1740.4,441.2 1745.3,441.0 1750.2,440.9 1755.1,440.7 1760.0,440.6 1764.9,440.4 1769.7,440.2 1774.6,440.1 1779.5,439.9 1784.4,439.8 1789.3,439.6 1794.2,439.4 1799.1,439.3 1803.9,439.1 1808.8,439.0 1813.7,438.8 1818.6,438.7 1823.5,438.5"/>


<!-- legend -->
<g font-size="12" font-weight="bold" fill="#333">
  <rect x="1861" y="71" width="16" height="2" fill="#1e6ed7"/><circle cx="1869" cy="72" r="4" fill="#2b78d4"/>
  <text x="1882" y="76" textLength="88.8" lengthAdjust="spacingAndGlyphs">sid:TS1:baseline</text>
  <rect x="1861" y="86" width="16" height="2" fill="#e45a37"/><path d="M1869 83l4 4-4 4-4-4z" fill="#e0694b"/>
  <text x="1882" y="91" textLength="68.1" lengthAdjust="spacingAndGlyphs">sid:TS1:num</text>
  <rect x="1861" y="101" width="16" height="2" fill="#0a1496"/><rect x="1865" y="98" width="8" height="8" fill="#0a1496"/>
  <text x="1882" y="106" textLength="87.1" lengthAdjust="spacingAndGlyphs">sid:TS1:residual</text>
  <rect x="1861" y="116" width="16" height="2" fill="#28a0aa"/><path d="M1869 113l4 8h-8z" fill="#30a3ab"/>
  <text x="1882" y="121" textLength="90.8" lengthAdjust="spacingAndGlyphs">sid:TS1:seasonal</text>
  <rect x="1861" y="131" width="16" height="2" fill="#4b0046"/><path d="M1865 128h8l-4 8z" fill="#4b0046"/>
  <text x="1882" y="136" textLength="73.1" lengthAdjust="spacingAndGlyphs">sid:TS1:trend</text>
</g>
</svg>
</body></html>
